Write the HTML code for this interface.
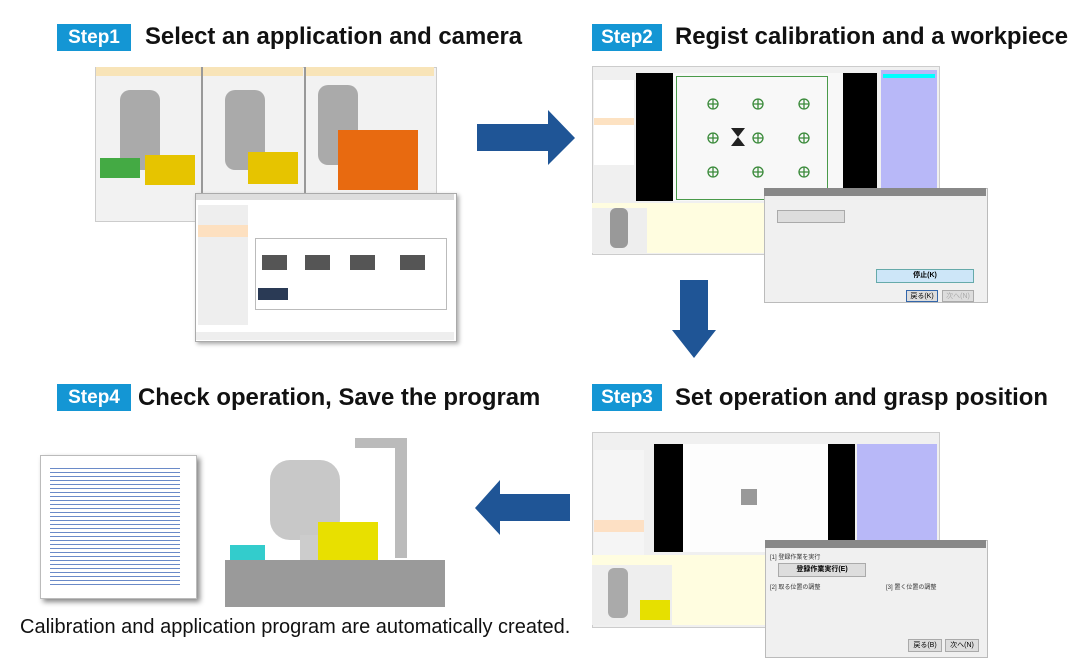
<!DOCTYPE html>
<html><head><meta charset="utf-8"><style>
body{margin:0;width:1080px;height:670px;background:#fff;position:relative;overflow:hidden;font-family:"Liberation Sans","Noto Sans CJK JP",sans-serif}
.a{position:absolute}
.badge{position:absolute;background:#1496d4;color:#fff;font-weight:bold;font-size:19px;width:74px;height:27px;line-height:27px;text-align:center}
.t{position:absolute;font-weight:bold;font-size:23.9px;color:#111;white-space:nowrap}
.sm{font-size:6px;color:#333;white-space:nowrap}
.btn{position:absolute;background:#ddd;border:1px solid #aaa;font-size:7px;text-align:center}
</style></head><body>
<div class="badge" style="left:57px;top:24px">Step1</div>
<div class="t" style="left:145px;top:23px">Select an application and camera</div>
<div class="badge" style="left:592px;top:24px;width:70px">Step2</div>
<div class="t" style="left:675px;top:23px">Regist calibration and a workpiece</div>
<div class="badge" style="left:57px;top:384px">Step4</div>
<div class="t" style="left:138px;top:384px">Check operation, Save the program</div>
<div class="badge" style="left:592px;top:384px;width:70px">Step3</div>
<div class="t" style="left:675px;top:384px">Set operation and grasp position</div>

<svg class="a" style="left:0;top:0" width="1080" height="670">
<polygon points="477,124 548,124 548,110 575,138 548,165 548,151 477,151" fill="#1f5596"/>
<polygon points="680,280 708,280 708,330 716,330 694,358 672,330 680,330" fill="#1f5596"/>
<polygon points="570,494 500,494 500,480 475,508 500,535 500,521 570,521" fill="#1f5596"/>
</svg>

<!-- Step1 -->
<div class="a" style="left:95px;top:67px;width:340px;height:153px;background:#f2f2f2;border:1px solid #ccc"></div>
<div class="a" style="left:96px;top:67px;width:105px;height:9px;background:#f8e4b8"></div>
<div class="a" style="left:203px;top:67px;width:100px;height:9px;background:#f8e4b8"></div>
<div class="a" style="left:306px;top:67px;width:128px;height:9px;background:#f8e4b8"></div>
<div class="a" style="left:201px;top:67px;width:2px;height:150px;background:#999"></div>
<div class="a" style="left:304px;top:67px;width:2px;height:150px;background:#999"></div>
<div class="a" style="left:120px;top:90px;width:40px;height:80px;background:#aaa;border-radius:10px"></div>
<div class="a" style="left:225px;top:90px;width:40px;height:80px;background:#aaa;border-radius:10px"></div>
<div class="a" style="left:318px;top:85px;width:40px;height:80px;background:#aaa;border-radius:10px"></div>
<div class="a" style="left:100px;top:158px;width:40px;height:20px;background:#4a4;"></div>
<div class="a" style="left:145px;top:155px;width:50px;height:30px;background:#e6c400"></div>
<div class="a" style="left:248px;top:152px;width:50px;height:32px;background:#e6c400"></div>
<div class="a" style="left:338px;top:130px;width:80px;height:60px;background:#e86a10"></div>
<div class="a" style="left:195px;top:193px;width:260px;height:147px;background:#fff;border:1px solid #aaa;box-shadow:2px 2px 4px #aaa"></div>
<div class="a" style="left:196px;top:194px;width:258px;height:6px;background:#ddd"></div>
<div class="a" style="left:198px;top:205px;width:50px;height:120px;background:#eee"></div>
<div class="a" style="left:198px;top:225px;width:50px;height:12px;background:#fde0c0"></div>
<div class="a" style="left:255px;top:238px;width:190px;height:70px;border:1px solid #bbb"></div>
<div class="a" style="left:262px;top:255px;width:25px;height:15px;background:#555"></div>
<div class="a" style="left:305px;top:255px;width:25px;height:15px;background:#555"></div>
<div class="a" style="left:350px;top:255px;width:25px;height:15px;background:#555"></div>
<div class="a" style="left:400px;top:255px;width:25px;height:15px;background:#555"></div>
<div class="a" style="left:258px;top:288px;width:30px;height:12px;background:#2a3a55"></div>
<div class="a" style="left:196px;top:332px;width:258px;height:8px;background:#eee"></div>

<!-- Step2 -->
<div class="a" style="left:592px;top:66px;width:346px;height:187px;background:#f0f0f0;border:1px solid #ccc"></div>
<div class="a" style="left:594px;top:80px;width:40px;height:85px;background:#fff"></div>
<div class="a" style="left:594px;top:118px;width:40px;height:7px;background:#fde2c2"></div>
<div class="a" style="left:636px;top:73px;width:37px;height:128px;background:#000"></div>
<div class="a" style="left:673px;top:73px;width:170px;height:128px;background:#f8f8f8"></div>
<div class="a" style="left:676px;top:76px;width:150px;height:122px;border:1px solid #4a9a4a"></div>
<div class="a" style="left:843px;top:73px;width:34px;height:128px;background:#000"></div>
<div class="a" style="left:881px;top:70px;width:56px;height:118px;background:#b8b8f8"></div>
<div class="a" style="left:883px;top:74px;width:52px;height:4px;background:#0ff"></div>
<svg class="a" style="left:700px;top:90px" width="120" height="110">
<g fill="none" stroke="#3a8a3a" stroke-width="1.3">
<circle cx="13" cy="14" r="5"/><circle cx="58" cy="14" r="5"/><circle cx="104" cy="14" r="5"/>
<circle cx="13" cy="48" r="5"/><circle cx="58" cy="48" r="5"/><circle cx="104" cy="48" r="5"/>
<circle cx="13" cy="82" r="5"/><circle cx="58" cy="82" r="5"/><circle cx="104" cy="82" r="5"/>
<path d="M8 14h10M13 9v10M53 14h10M58 9v10M99 14h10M104 9v10M8 48h10M13 43v10M53 48h10M58 43v10M99 48h10M104 43v10M8 82h10M13 77v10M53 82h10M58 77v10M99 82h10M104 77v10"/></g>
<polygon points="31,38 45,38 38,47 45,56 31,56 38,47" fill="#222"/>
</svg>
<div class="a" style="left:592px;top:203px;width:172px;height:50px;background:#fffde0"></div>
<div class="a" style="left:592px;top:208px;width:55px;height:45px;background:#eee"></div>
<div class="a" style="left:610px;top:208px;width:18px;height:40px;background:#999;border-radius:6px"></div>
<div class="a" style="left:764px;top:188px;width:222px;height:113px;background:#f0f0f0;border:1px solid #bbb"></div>
<div class="a" style="left:764px;top:188px;width:222px;height:8px;background:#888"></div>
<div class="btn" style="left:777px;top:210px;width:66px;height:11px;color:#999"></div>
<div class="btn" style="left:876px;top:269px;width:96px;height:12px;background:#cde6f8;border-color:#6aa;font-weight:bold">停止(K)</div>
<div class="btn" style="left:906px;top:290px;width:30px;height:10px;border-color:#36a">戻る(K)</div>
<div class="btn" style="left:942px;top:290px;width:30px;height:10px;color:#aaa">次へ(N)</div>

<!-- Step3 -->
<div class="a" style="left:592px;top:432px;width:346px;height:194px;background:#f0f0f0;border:1px solid #ccc"></div>
<div class="a" style="left:594px;top:450px;width:50px;height:115px;background:#f5f5f5"></div>
<div class="a" style="left:594px;top:520px;width:50px;height:12px;background:#fde0c4"></div>
<div class="a" style="left:654px;top:444px;width:29px;height:108px;background:#000"></div>
<div class="a" style="left:683px;top:444px;width:145px;height:108px;background:#fdfdfd"></div>
<div class="a" style="left:741px;top:489px;width:16px;height:16px;background:#999"></div>
<div class="a" style="left:828px;top:444px;width:27px;height:108px;background:#000"></div>
<div class="a" style="left:857px;top:444px;width:80px;height:108px;background:#b8b8f8"></div>
<div class="a" style="left:592px;top:555px;width:173px;height:70px;background:#fffde0"></div>
<div class="a" style="left:592px;top:565px;width:80px;height:60px;background:#eee"></div>
<div class="a" style="left:608px;top:568px;width:20px;height:50px;background:#aaa;border-radius:6px"></div>
<div class="a" style="left:640px;top:600px;width:30px;height:20px;background:#e6e000"></div>
<div class="a" style="left:765px;top:540px;width:221px;height:116px;background:#f0f0f0;border:1px solid #bbb"></div>
<div class="a" style="left:765px;top:540px;width:221px;height:8px;background:#888"></div>
<div class="btn" style="left:778px;top:563px;width:86px;height:12px;font-weight:bold">登録作業実行(E)</div>
<div class="a sm" style="left:770px;top:552px">[1] 登録作業を実行</div>
<div class="a sm" style="left:770px;top:582px">[2] 取る位置の調整</div>
<div class="a sm" style="left:886px;top:582px">[3] 置く位置の調整</div>
<div class="btn" style="left:908px;top:639px;width:32px;height:11px">戻る(B)</div>
<div class="btn" style="left:945px;top:639px;width:32px;height:11px">次へ(N)</div>

<!-- Step4 -->
<div class="a" style="left:40px;top:455px;width:155px;height:142px;background:#fff;border:1px solid #bbb;box-shadow:3px 3px 5px #888"></div>
<div class="a" style="left:50px;top:465px;width:130px;height:120px;background:repeating-linear-gradient(#fff 0 3px,#6a8ac8 3px 4px)"></div>
<div class="a" style="left:215px;top:430px;width:235px;height:177px;background:#fff"></div>
<div class="a" style="left:355px;top:438px;width:50px;height:10px;background:#bbb"></div>
<div class="a" style="left:395px;top:438px;width:12px;height:120px;background:#bbb"></div>
<div class="a" style="left:270px;top:460px;width:70px;height:80px;background:#c8c8c8;border-radius:20px"></div>
<div class="a" style="left:300px;top:535px;width:40px;height:60px;background:#ccc"></div>
<div class="a" style="left:318px;top:522px;width:60px;height:38px;background:#e8e000"></div>
<div class="a" style="left:230px;top:545px;width:35px;height:15px;background:#3cc"></div>
<div class="a" style="left:225px;top:560px;width:220px;height:47px;background:#9a9a9a"></div>
<div class="a" style="left:20px;top:616px;font-size:20px;color:#111;white-space:nowrap">Calibration and application program are automatically created.</div>
</body></html>
